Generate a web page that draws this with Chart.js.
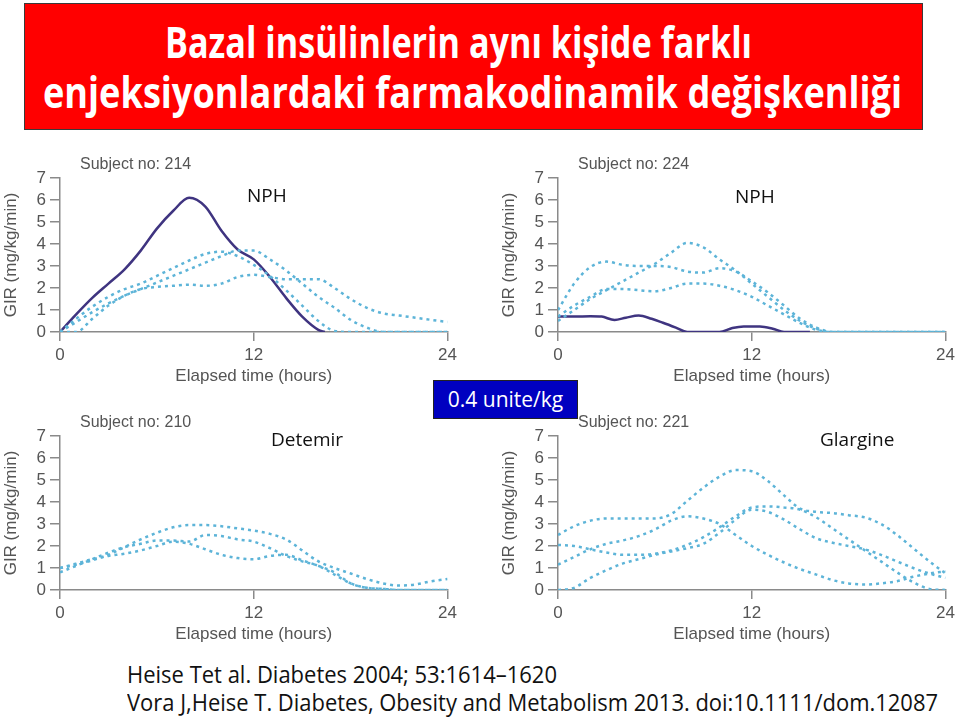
<!DOCTYPE html>
<html>
<head>
<meta charset="utf-8">
<script src="https://cdn.jsdelivr.net/npm/chart.js@4.4.1/dist/chart.umd.min.js"></script>
<style>
  body { margin: 0; background: #fff; }
  #page { position: relative; width: 959px; height: 717px; overflow: hidden; font-family: "Liberation Sans", Arial, sans-serif; }
  canvas { position: absolute; }
  .title-box { position: absolute; left: 24px; top: 3px; width: 897px; height: 125px; background: #ff0000; border: 1px solid #3a3a3a; }
  .tline { position: absolute; left: 0; white-space: nowrap; color: #fff; font-family: "Open Sans", sans-serif; font-weight: bold; font-size: 43px; line-height: 1; transform-origin: left center; }
  .lbl { position: absolute; font-family: "Open Sans", "Noto Sans", sans-serif; font-size: 19px; color: #111; white-space: nowrap; line-height: 1; }
  .dose { position: absolute; left: 433px; top: 380px; width: 143px; height: 37px; background: #0000c0; border: 1px solid #222; color: #fff; font-family: "Open Sans", sans-serif; font-size: 21px; line-height: 37px; text-align: center; }
  .ref { position: absolute; left: 127px; white-space: nowrap; color: #111; font-family: "Open Sans", sans-serif; font-size: 24px; line-height: 1; transform-origin: left center; }
</style>
</head>
<body>
<div id="page">
  <div class="title-box"></div>
  <div class="tline" id="t1" data-x="165" data-w="587" style="top:20px">Bazal insülinlerin aynı kişide farklı</div>
  <div class="tline" id="t2" data-x="43" data-w="859" style="top:70px">enjeksiyonlardaki farmakodinamik değişkenliği</div>

  <canvas id="c214" width="461" height="242" style="left:0;top:148px"></canvas>
  <canvas id="c224" width="461" height="242" style="left:498px;top:148px"></canvas>
  <canvas id="c210" width="461" height="242" style="left:0;top:406px"></canvas>
  <canvas id="c221" width="461" height="242" style="left:498px;top:406px"></canvas>

  <div class="lbl" style="left:247px;top:186px">NPH</div>
  <div class="lbl" style="left:735px;top:187px">NPH</div>
  <div class="lbl" style="left:271px;top:430px">Detemir</div>
  <div class="lbl" style="left:820px;top:430px">Glargine</div>
  <div class="dose">0.4 unite/kg</div>

  <div class="ref" id="r1" data-x="127" data-w="430" style="top:662px">Heise Tet al. Diabetes 2004; 53:1614–1620</div>
  <div class="ref" id="r2" data-x="127" data-w="811" style="top:690px">Vora J,Heise T. Diabetes, Obesity and Metabolism 2013. doi:10.1111/dom.12087</div>
</div>
<script>
// hourly grid used by the dotted curves
const hours = [0,1,2,3,4,5,6,7,8,9,10,11,12,13,14,15,16,17,18,19,20,21,22,23,24];
const xTicks = [0, 12, 24];
const yTicks = [0, 1, 2, 3, 4, 5, 6, 7];

// Subject 214, NPH
const s214SolidHours = [0,1,2,3,4,5,6,7,8,9,10,11,12,13,14,15,16,16.4];
const s214Solid = [0,0.8,1.55,2.2,2.85,3.7,4.7,5.5,6.1,5.7,4.6,3.75,3.3,2.5,1.55,0.7,0.1,0];
const s214a = [0,0.45,0.9,1.3,1.65,1.95,2.25,2.55,2.85,3.15,3.45,3.7,3.7,3.3,2.8,2.2,1.6,1.1,0.55,0.2,0,0,0,0,0];
const s214b = [0,0.6,1.15,1.6,1.95,2.2,2.55,2.9,3.25,3.55,3.65,3.45,3.05,2.55,1.9,1.2,0.5,0.05,0,0,0,0,0,0,0];
const s214c = [0,0,0.6,1.2,1.65,1.95,2.05,2.1,2.15,2.1,2.2,2.5,2.6,2.5,2.4,2.4,2.4,2.0,1.5,1.1,0.85,0.75,0.65,0.55,0.45];

// Subject 224, NPH
const s224SolidHours = [0,1,2,2.7,3.5,4.2,5,5.8,6.5,7.3,8,10,10.8,11.5,12.5,13.3,14,15.6];
const s224Solid = [0.7,0.7,0.72,0.7,0.55,0.65,0.75,0.6,0.42,0.2,0,0,0.18,0.25,0.25,0.15,0,0];
const s224a = [0.5,1.0,1.5,1.9,2.3,2.7,3.1,3.6,4.05,3.85,3.3,2.8,2.2,1.6,1.0,0.5,0.15,0,0,0,0,0,0,0,0];
const s224b = [1.0,2.2,2.95,3.2,3.05,3.0,3.0,2.95,2.75,2.7,2.9,2.75,2.3,1.8,1.2,0.6,0.2,0,0,0,0,0,0,0,0];
const s224c = [0.7,1.2,1.6,1.95,1.95,1.9,1.85,2.0,2.2,2.2,2.1,1.9,1.6,1.2,0.8,0.4,0.1,0,0,0,0,0,0,0,0];

// Subject 210, Detemir
const s210a = [1.0,1.15,1.35,1.6,1.95,2.3,2.6,2.85,2.95,2.95,2.9,2.8,2.7,2.55,2.3,1.8,1.3,1.0,0.75,0.5,0.3,0.2,0.25,0.4,0.5];
const s210b = [0.8,1.1,1.4,1.7,1.95,2.1,2.25,2.25,2.2,2.5,2.45,2.3,2.2,1.9,1.55,1.3,1.1,0.7,0.3,0.1,0.05,0,0,0,0];
const s210c = [1.0,1.2,1.4,1.55,1.65,1.8,2.0,2.2,2.1,1.85,1.6,1.45,1.4,1.55,1.6,1.35,1.1,0.8,0.3,0.1,0.05,0,0,0,0];

// Subject 221, Glargine
const s221a = [2.5,2.9,3.15,3.25,3.25,3.25,3.25,3.45,4.05,4.65,5.15,5.45,5.4,4.95,4.3,3.7,3.55,3.5,3.4,3.3,3.0,2.5,1.9,1.3,0.75];
const s221b = [2.05,2.0,1.85,1.7,1.6,1.6,1.65,1.8,2.05,2.4,2.85,3.35,3.75,3.8,3.75,3.65,3.3,2.8,2.3,1.8,1.3,0.8,0.35,0.05,0];
const s221c = [1.15,1.5,1.85,2.1,2.25,2.45,2.75,3.15,3.35,3.25,3.0,2.5,2.0,1.6,1.25,0.95,0.7,0.45,0.3,0.25,0.3,0.4,0.6,0.75,0.85];
const s221d = [0,0.1,0.55,0.9,1.2,1.4,1.6,1.75,1.9,2.1,2.6,3.2,3.65,3.55,3.2,2.75,2.35,2.15,2.0,1.85,1.6,1.3,1.0,0.75,0.55];

const axisColor = '#8a8a8a';
const textColor = '#555';
const solidColor = '#3f3480';
const dotColor = '#5db4d8';
const axisFont = { family: '"Liberation Sans", Arial, sans-serif', size: 17 };

const pts = (xs, ys) => xs.map((h, i) => ({ x: h, y: ys[i] }));

const subjectLabel = {
  id: 'subjectLabel',
  afterDraw(chart, args, opts) {
    const { ctx, chartArea } = chart;
    ctx.save();
    ctx.font = '16px "Liberation Sans", Arial, sans-serif';
    ctx.fillStyle = textColor;
    ctx.textBaseline = 'middle';
    ctx.fillText(opts.text, chartArea.left + 20, chartArea.top - 13);
    ctx.restore();
  }
};

function panel(id, subject, solid, dotted) {
  const datasets = dotted.map(ys => ({
    data: pts(hours, ys),
    borderColor: dotColor,
    borderWidth: 2.5,
    borderDash: [3, 4],
  }));
  if (solid) {
    datasets.push({ data: pts(solid[0], solid[1]), borderColor: solidColor, borderWidth: 2.5 });
  }
  new Chart(document.getElementById(id), {
    type: 'line',
    data: { datasets },
    options: {
      responsive: false,
      animation: false,
      layout: { padding: { left: 0, top: 30, right: 12, bottom: 0 } },
      elements: { point: { radius: 0 }, line: { cubicInterpolationMode: 'monotone', fill: false } },
      plugins: { legend: { display: false }, tooltip: { enabled: false }, subjectLabel: { text: subject } },
      scales: {
        x: {
          type: 'linear', min: 0, max: 24,
          afterFit: s => { s.height = 58; },
          afterBuildTicks: s => { s.ticks = xTicks.map(v => ({ value: v })); },
          ticks: { color: textColor, font: axisFont, padding: 4, maxRotation: 0, autoSkip: false },
          grid: { drawOnChartArea: false, drawTicks: true, tickLength: 9, color: axisColor, lineWidth: 1.5 },
          border: { color: axisColor, width: 1.5 },
          title: { display: true, text: 'Elapsed time (hours)', color: textColor, font: axisFont, padding: { top: 0, bottom: 3 } }
        },
        y: {
          min: 0, max: 7,
          afterFit: s => { s.width = 60; },
          afterBuildTicks: s => { s.ticks = yTicks.map(v => ({ value: v })); },
          ticks: { color: textColor, font: axisFont, padding: 4, autoSkip: false },
          grid: { drawOnChartArea: false, drawTicks: true, tickLength: 10, color: axisColor, lineWidth: 1.5 },
          border: { color: axisColor, width: 1.5 },
          title: { display: true, text: 'GIR (mg/kg/min)', color: textColor, font: axisFont, padding: { top: 1, bottom: 0 } }
        }
      }
    },
    plugins: [subjectLabel]
  });
}

panel('c214', 'Subject no: 214', [s214SolidHours, s214Solid], [s214a, s214b, s214c]);
panel('c224', 'Subject no: 224', [s224SolidHours, s224Solid], [s224a, s224b, s224c]);
panel('c210', 'Subject no: 210', null, [s210a, s210b, s210c]);
panel('c221', 'Subject no: 221', null, [s221a, s221b, s221c, s221d]);

// stretch the slide text lines to the widths they take on the slide
document.querySelectorAll('.tline, .ref').forEach(el => {
  const w = el.getBoundingClientRect().width;
  el.style.left = el.dataset.x + 'px';
  el.style.transform = 'scaleX(' + (el.dataset.w / w) + ')';
});
</script>
</body>
</html>
